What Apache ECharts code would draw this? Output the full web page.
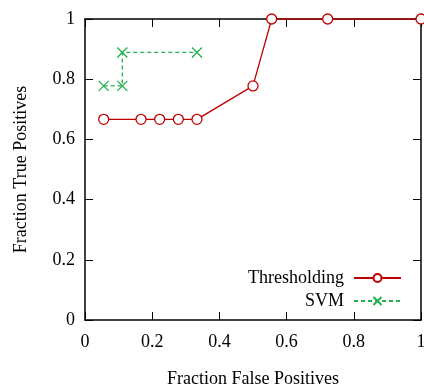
<!DOCTYPE html>
<html><head><meta charset="utf-8">
<script src="https://cdn.jsdelivr.net/npm/echarts@6/dist/echarts.min.js"></script>
<style>html,body{margin:0;padding:0;background:#fff}#c{width:424px;height:384px}</style>
</head><body><div id="c"></div>
<script>
const thrX = [0.0556, 0.1667, 0.2222, 0.2778, 0.3333, 0.5, 0.5556, 0.7222, 1.0];
const thrY = [0.6667, 0.6667, 0.6667, 0.6667, 0.6667, 0.7778, 1.0, 1.0, 1.0];
const svmX = [0.0556, 0.1111, 0.1111, 0.3333];
const svmY = [0.7778, 0.7778, 0.8889, 0.8889];
const seriesNames = ['Thresholding', 'SVM'];
const xTitle = 'Fraction False Positives';
const yTitle = 'Fraction True Positives';

const font = 'Liberation Serif';
const fs = 18;
const red = '#c00000';
const green = '#22b14c';
const chart = echarts.init(document.getElementById('c'), null, {renderer: 'canvas'});
const axisCommon = {
  type: 'value', min: 0, max: 1, interval: 0.2,
  axisLine: {show: true, onZero: false, lineStyle: {color: '#000', width: 1.5}},
  axisTick: {show: true, inside: true, length: 8, lineStyle: {color: '#000', width: 1}},
  splitLine: {show: false}
};
chart.setOption({
  animation: false,
  grid: {left: 85, right: 3, top: 19, bottom: 64, containLabel: false, outerBoundsMode: 'none'},
  xAxis: [
    Object.assign({}, axisCommon, {position: 'bottom', name: xTitle, nameLocation: 'middle', nameGap: 50,
      nameTextStyle: {fontFamily: font, fontSize: fs, color: '#000'},
      axisLabel: {fontFamily: font, fontSize: fs, color: '#000', margin: 13}}),
    Object.assign({}, axisCommon, {position: 'top', axisLabel: {show: false}})
  ],
  yAxis: [
    Object.assign({}, axisCommon, {position: 'left', name: yTitle, nameLocation: 'middle', nameGap: 55,
      nameTextStyle: {fontFamily: font, fontSize: fs, color: '#000'},
      axisLabel: {fontFamily: font, fontSize: fs, color: '#000', margin: 10}}),
    Object.assign({}, axisCommon, {position: 'right', axisLabel: {show: false}})
  ],
  legend: {
    orient: 'vertical', right: 22, top: 269, align: 'right', padding: 0,
    itemWidth: 47, itemHeight: 10, itemGap: 5,
    textStyle: {fontFamily: font, fontSize: fs, color: '#000', padding: [0, 5, 0, 0]},
    data: seriesNames
  },
  series: [
    {
      name: seriesNames[0], type: 'line',
      data: thrX.map((x, i) => [x, thrY[i]]),
      symbol: 'circle', symbolSize: 10, showAllSymbol: true,
      lineStyle: {color: red, width: 1.3},
      itemStyle: {color: '#fff', borderColor: red, borderWidth: 1.3},
      z: 3
    },
    {
      name: seriesNames[1], type: 'line',
      data: svmX.map((x, i) => [x, svmY[i]]),
      symbol: 'path://M0,0L10,10M10,0L0,10', symbolSize: 10, showAllSymbol: true,
      lineStyle: {color: green, width: 1.3, type: [4, 3]},
      itemStyle: {color: 'none', borderColor: green, borderWidth: 1.3},
      z: 3
    }
  ]
});
</script></body></html>
